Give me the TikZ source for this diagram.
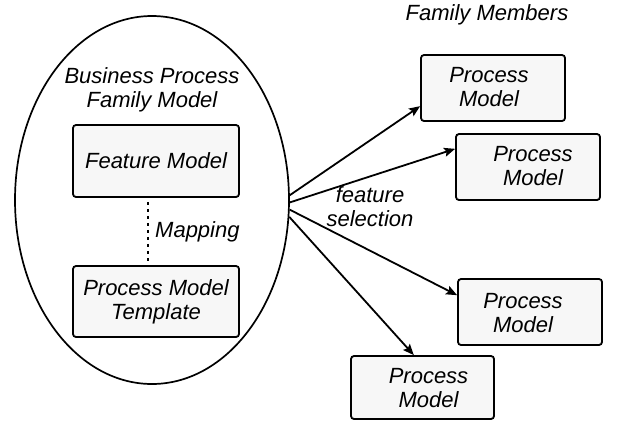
\documentclass[tikz,border=0pt]{standalone}
\usepackage{fontspec}
\setmainfont{Liberation Sans}
\usetikzlibrary{shapes.geometric,arrows.meta,calc}
\definecolor{boxgray}{HTML}{F7F7F7}

\begin{document}
\begin{tikzpicture}[x=1pt,y=-1pt,
  txt/.style={font=\fontsize{22}{24}\selectfont\itshape, align=center, inner sep=0pt},
  box/.style={draw, line width=1.8pt, rounded corners=3pt, fill=boxgray, inner sep=0pt},
  flow/.style={-{Stealth[length=11pt,width=9pt,inset=2pt]}, line width=1.8pt}]
\useasboundingbox (0,0) rectangle (620,421);

% family model
\node[draw, ellipse, line width=1.7pt, minimum width=274, minimum height=368, inner sep=0pt] (ell) at (152,200) {};
\node[txt] (title) at (152,90) {Business Process\\Family Model};
\node[box, minimum width=166, minimum height=72] (fm) at (156,161) {};
\node[txt] (fmt) at (fm.center) {Feature Model};
\node[box, minimum width=166, minimum height=71] (pmt) at (156,301.5) {};
\node[txt] (pmtt) at (pmt.center) {Process Model\\Template};
\draw[line width=2.7pt, dash pattern=on 2.7pt off 4.3pt] ($(fm.south)+(-8,4)$) -- ($(pmt.north)+(-8,-4)$);
\node[txt, anchor=west] (map) at (155,232) {Mapping};

% family members
\node[txt] (fam) at (487,15) {Family Members};
\node[box, minimum width=144, minimum height=66] (b1) at (493,88) {};
\node[txt] (t1) at ($(b1.center)+(-4,-1)$) {Process\\Model};
\node[box, minimum width=144, minimum height=66] (b2) at (528,167) {};
\node[txt] (t2) at ($(b2.center)+(5,-1)$) {Process\\Model};
\node[box, minimum width=144, minimum height=66] (b3) at (530,312) {};
\node[txt] (t3) at ($(b3.center)+(-7,1)$) {Process\\Model};
\node[box, minimum width=143, minimum height=63] (b4) at (422.5,387.5) {};
\node[txt] (t4) at ($(b4.center)+(6,1)$) {Process\\Model};

% derivation by feature selection
\draw[flow] (ell.2) -- (b1.194);
\draw[flow] (ell.-1) -- (b2.166);
\draw[flow] (ell.-4) -- (b3.167);
\draw[flow] (ell.-7) -- (b4.105);
\node[txt] (sel) at (370,207) {feature\\selection};
\end{tikzpicture}
\end{document}
